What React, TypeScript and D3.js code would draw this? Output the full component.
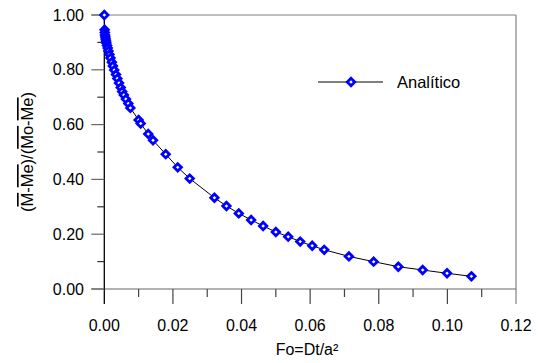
import React from "react";
import * as d3 from "d3";

const foValues = [0, 0.0001, 0.00015, 0.0002, 0.0003, 0.0004, 0.0005, 0.0006, 0.0008, 0.001, 0.0012, 0.0015, 0.0018, 0.0022, 0.0025, 0.0029, 0.0034, 0.0038, 0.0043, 0.0048, 0.0052, 0.0057, 0.0063, 0.007, 0.0076, 0.01, 0.0106, 0.0128, 0.0142, 0.0179, 0.0214, 0.0249, 0.0321, 0.0356, 0.0392, 0.0428, 0.0463, 0.05, 0.0536, 0.0571, 0.0606, 0.0641, 0.0713, 0.0785, 0.0857, 0.0928, 0.0999, 0.107];
const ratioValues = [1.0, 0.946, 0.936, 0.927, 0.92, 0.912, 0.905, 0.898, 0.889, 0.88, 0.869, 0.856, 0.843, 0.828, 0.814, 0.799, 0.783, 0.768, 0.752, 0.735, 0.721, 0.708, 0.693, 0.677, 0.661, 0.617, 0.604, 0.566, 0.543, 0.492, 0.444, 0.403, 0.333, 0.303, 0.276, 0.252, 0.23, 0.208, 0.191, 0.173, 0.158, 0.143, 0.119, 0.0997, 0.0814, 0.0693, 0.0573, 0.0463];
const xMajorTicks = [0, 0.02, 0.04, 0.06, 0.08, 0.1, 0.12];
const xMinorTicks = [0.01, 0.03, 0.05, 0.07, 0.09, 0.11];
const yMajorTicks = [0, 0.2, 0.4, 0.6, 0.8, 1.0];
const yMinorTicks = [0.1, 0.3, 0.5, 0.7, 0.9];
const seriesName = "Analítico";
const xTitle = "Fo=Dt/a²";

const W = 541, H = 363;
const FONT = "Arial, 'Liberation Sans', sans-serif";

function diamond(cx: number, cy: number, r: number) {
  return `M${cx},${cy - r}L${cx + r},${cy}L${cx},${cy + r}L${cx - r},${cy}Z`;
}

export default function App() {
  const x = d3.scaleLinear().domain([0, 0.12]).range([104.3, 516]);
  const y = d3.scaleLinear().domain([0, 1]).range([289, 15]);
  const pts = foValues.map((f, i) => [x(f), y(ratioValues[i])] as [number, number]);
  const line = d3.line();
  const fmt = d3.format(".2f");
  const x0 = x(0), xr = x(0.12), yb = y(0), yt = y(1);
  const ol = { textDecoration: "overline" } as React.CSSProperties;

  return (
    <svg width={W} height={H} style={{ position: "absolute", left: 0, top: 0, background: "#fff" }} fontFamily={FONT}>
      <rect x={0} y={0} width={W} height={H} fill="#fff" />
      {/* frame */}
      <line x1={x0 - 13} x2={xr} y1={yt} y2={yt} stroke="#808080" strokeWidth={1.2} />
      <line x1={xr} x2={xr} y1={yt} y2={yb + 15} stroke="#808080" strokeWidth={1.2} />
      {/* x axis */}
      <line x1={x0 - 13} x2={xr} y1={yb} y2={yb} stroke="#666" strokeWidth={1.2} />
      {xMajorTicks.map((t) => (
        <g key={"xm" + t}>
          <line x1={x(t)} x2={x(t)} y1={yb} y2={yb + 15} stroke={t === 0 || t === 0.12 ? "none" : "#444"} strokeWidth={1.2} />
          <text x={x(t)} y={331} textAnchor="middle" fontSize={16} fill="#000">{fmt(t)}</text>
        </g>
      ))}
      {xMinorTicks.map((t) => (
        <line key={"xn" + t} x1={x(t)} x2={x(t)} y1={yb} y2={yb + 8} stroke="#444" strokeWidth={1.2} />
      ))}
      {/* y axis */}
      <line x1={x0} x2={x0} y1={yt} y2={yb + 15} stroke="#000" strokeWidth={1.3} />
      {yMajorTicks.map((t) => (
        <g key={"ym" + t}>
          <line x1={x0 - 13} x2={x0} y1={y(t)} y2={y(t)} stroke="#666" strokeWidth={1.2} />
          <text x={84} y={y(t) + 5.5} textAnchor="end" fontSize={16} fill="#000">{fmt(t)}</text>
        </g>
      ))}
      {yMinorTicks.map((t) => (
        <line key={"yn" + t} x1={x0 - 7} x2={x0} y1={y(t)} y2={y(t)} stroke="#333" strokeWidth={1.2} />
      ))}
      {/* series */}
      <path d={line(pts) || ""} fill="none" stroke="#000" strokeWidth={1} />
      {pts.map((p, i) => (
        <path key={i} d={diamond(p[0], p[1], 3.7)} fill="#fff" stroke="#0000ff" strokeWidth={2.8} />
      ))}
      {/* legend */}
      <line x1={318} x2={383} y1={82} y2={82} stroke="#000" strokeWidth={1} />
      <path d={diamond(351, 82, 3.7)} fill="#fff" stroke="#0000ff" strokeWidth={2.8} />
      <text x={397} y={88} fontSize={16.5} fill="#000">{seriesName}</text>
      {/* x title */}
      <text x={307} y={355} textAnchor="middle" fontSize={16} fill="#000">{xTitle}</text>
      {/* y title */}
      <text transform={`translate(33,152) rotate(-90)`} textAnchor="middle" fontSize={16.5} fill="#000">
        (<tspan style={ol}>M</tspan>-<tspan style={ol}>Me</tspan>)/(<tspan style={ol}>Mo</tspan>-<tspan style={ol}>Me</tspan>)
      </text>
    </svg>
  );
}
